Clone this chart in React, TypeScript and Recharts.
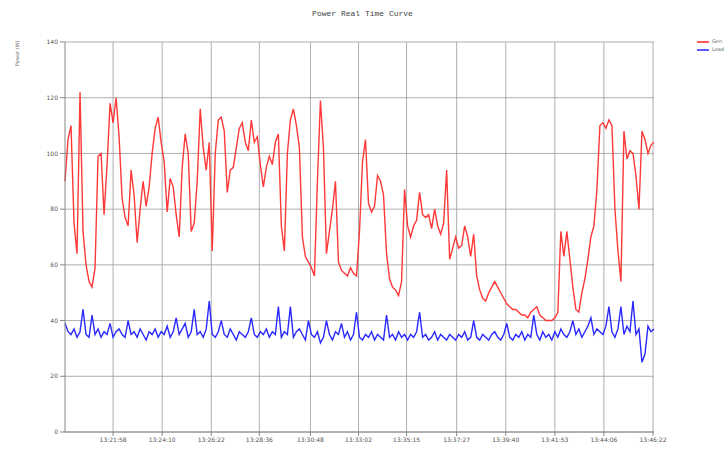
import React from 'react';
import { LineChart, Line, XAxis, YAxis, CartesianGrid } from 'recharts';

// sampled power readings (W), one sample every ~8 s
const redSeries = [
  90, 105, 110, 75, 64, 122, 72, 60, 54, 52,
  59, 99, 100, 78, 96, 118, 111, 120, 106, 84,
  77, 74, 94, 85, 68, 80, 90, 81, 88, 100,
  109, 113, 104, 97, 79, 91, 88, 78, 70, 95,
  107, 100, 72, 75, 90, 116, 102, 94, 104, 65,
  100, 112, 113, 108, 86, 94, 95, 102, 109, 111,
  104, 101, 112, 104, 106, 96, 88, 95, 99, 96,
  104, 107, 74, 65, 100, 112, 116, 110, 102, 70,
  63, 61, 59, 56, 90, 119, 102, 64, 72, 80,
  90, 61, 58, 57, 56, 59, 57, 56, 72, 97,
  105, 82, 79, 81, 92, 90, 85, 64, 55, 52,
  51, 49, 54, 87, 74, 70, 74, 76, 86, 78,
  77, 78, 73, 80, 74, 71, 75, 94, 62, 66,
  70, 66, 67, 74, 70, 63, 71, 56, 51, 48,
  47, 50, 52, 54, 52, 50, 48, 46, 45, 44,
  44, 43, 42, 42, 41, 43, 44, 45, 42, 41,
  40, 40, 40, 41, 43, 72, 63, 72, 62, 52,
  44, 43, 50, 55, 62, 70, 74, 87, 110, 111,
  109, 112, 110, 80, 65, 54, 108, 98, 101, 100,
  92, 80, 108, 105, 100, 103, 104,
];

const blueSeries = [
  39, 36, 35, 37, 34, 36, 44, 35, 34, 42,
  35, 37, 34, 36, 35, 39, 34, 36, 37, 35,
  34, 40, 35, 36, 34, 37, 35, 33, 36, 35,
  37, 34, 36, 35, 38, 34, 36, 41, 35, 37,
  39, 34, 36, 44, 35, 36, 34, 37, 47, 35,
  34, 36, 40, 35, 34, 37, 35, 33, 36, 35,
  34, 36, 41, 35, 34, 36, 35, 37, 34, 36,
  35, 45, 34, 36, 35, 45, 34, 36, 37, 35,
  33, 40, 35, 34, 36, 32, 34, 40, 35, 33,
  36, 35, 39, 34, 36, 33, 35, 43, 34, 33,
  35, 34, 36, 33, 35, 34, 33, 42, 34, 35,
  33, 36, 34, 35, 33, 35, 34, 36, 43, 34,
  35, 33, 34, 36, 33, 35, 34, 33, 35, 34,
  33, 35, 34, 36, 33, 34, 40, 34, 33, 35,
  34, 33, 35, 36, 34, 33, 35, 39, 34, 33,
  35, 34, 36, 33, 35, 34, 42, 35, 33, 36,
  34, 35, 33, 36, 34, 37, 35, 34, 36, 40,
  35, 37, 34, 36, 38, 41, 35, 37, 36, 35,
  38, 45, 36, 34, 37, 45, 35, 38, 36, 47,
  35, 37, 25, 28, 38, 36, 37,
];

// sample index where each time label falls
const tickIndex = [16, 32.33, 48.67, 64.67, 81.67, 97.67, 113.67, 130.33, 146.67, 163, 179.33, 195.67];
const tickLabels = [
  '13:21:58', '13:24:10', '13:26:22', '13:28:36', '13:30:48', '13:33:02',
  '13:35:15', '13:37:27', '13:39:40', '13:41:53', '13:44:06', '13:46:22',
];
const yTicks = [0, 20, 40, 60, 80, 100, 120, 140];

const data = redSeries.map((v, i) => ({ i, gen: v, load: blueSeries[i] }));

function LegendBox() {
  const row = (color: string, label: string) => (
    <div style={{ whiteSpace: 'nowrap', height: 8 }}>
      <span style={{ display: 'inline-block', width: 12, height: 2, background: color, verticalAlign: 'middle', marginRight: 3 }} />
      {label}
    </div>
  );
  return (
    <div
      style={{
        position: 'absolute', left: 697, top: 37, fontFamily: 'DejaVu Sans', fontSize: 5,
        color: '#666', lineHeight: '8px',
      }}
    >
      {row('#ff5a5a', 'Gen')}
      {row('#5a5aff', 'Load')}
    </div>
  );
}

export default function App() {
  const tickFmt = (v: number) => {
    const k = tickIndex.indexOf(v);
    return k >= 0 ? tickLabels[k] : '';
  };
  return (
    <div style={{ position: 'absolute', left: 0, top: 0, width: 725, height: 450, background: '#fff', overflow: 'hidden' }}>
      <div
        style={{
          position: 'absolute', left: 0, top: 9, width: 725, textAlign: 'center',
          fontFamily: 'Liberation Mono', fontSize: 8, color: '#444',
        }}
      >
        Power Real Time Curve
      </div>
      <div
        style={{
          position: 'absolute', left: 14, top: 66, fontFamily: 'DejaVu Sans', fontSize: 5, color: '#666',
          transform: 'rotate(-90deg)', transformOrigin: 'left top', whiteSpace: 'nowrap',
        }}
      >
        Power (W)
      </div>
      <LineChart width={725} height={450} data={data} margin={{ top: 42, right: 71, bottom: 0, left: 35 }}>
        <CartesianGrid stroke="#9a9a9a" strokeWidth={0.8} horizontalValues={yTicks} verticalValues={tickIndex} />
        <XAxis
          dataKey="i"
          type="number"
          domain={[0, 196]}
          ticks={tickIndex}
          tickFormatter={tickFmt}
          interval={0}
          height={18}
          tick={{ fontSize: 6, fill: '#555', fontFamily: 'DejaVu Sans' }}
          tickSize={4}
          stroke="#888"
        />
        <YAxis
          type="number"
          domain={[0, 140]}
          ticks={yTicks}
          interval={0}
          width={30}
          tick={{ fontSize: 6, fill: '#555', fontFamily: 'DejaVu Sans' }}
          tickSize={5}
          stroke="#888"
        />
        <Line type="linear" dataKey="gen" stroke="#ff3838" strokeWidth={1.4} dot={false} isAnimationActive={false} />
        <Line type="linear" dataKey="load" stroke="#2a2aff" strokeWidth={1.4} dot={false} isAnimationActive={false} />
      </LineChart>
      <LegendBox />
    </div>
  );
}
